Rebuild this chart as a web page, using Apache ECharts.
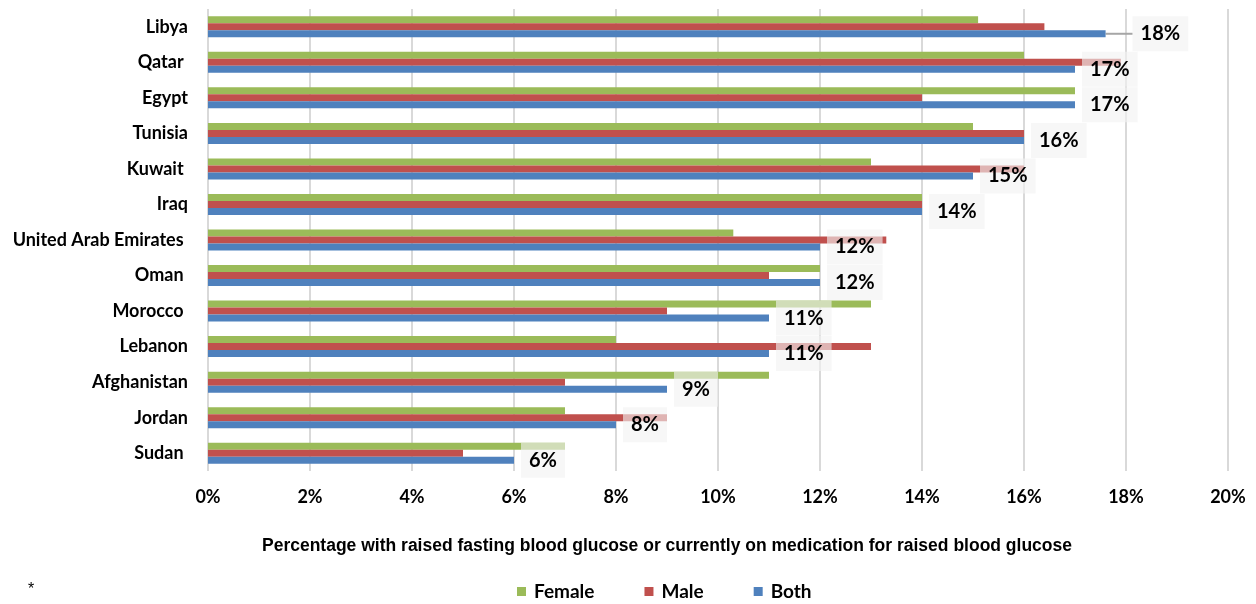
<!DOCTYPE html>
<html>
<head>
<meta charset="utf-8">
<script src="https://cdn.jsdelivr.net/npm/echarts@6/dist/echarts.min.js"></script>
<style>
  html, body { margin: 0; padding: 0; background: #fff; }
  #chart { width: 1256px; height: 604px; }
</style>
</head>
<body>
<div id="chart"></div>
<script>
// Countries, top to bottom
const countries = ['Libya', 'Qatar ', 'Egypt', 'Tunisia', 'Kuwait ', 'Iraq', 'United Arab Emirates ',
  'Oman ', 'Morocco ', 'Lebanon', 'Afghanistan', 'Jordan', 'Sudan '];
// Prevalence (%) of raised fasting blood glucose
const female = [15.1, 16.0, 17.0, 15.0, 13.0, 14.0, 10.3, 12.0, 13.0, 8.0, 11.0, 7.0, 7.0];
const male   = [16.4, 17.9, 14.0, 16.0, 16.0, 14.0, 13.3, 11.0, 9.0, 13.0, 7.0, 9.0, 5.0];
const both   = [17.6, 17.0, 17.0, 16.0, 15.0, 14.0, 12.0, 12.0, 11.0, 11.0, 9.0, 8.0, 6.0];
const xTicks = [0, 2, 4, 6, 8, 10, 12, 14, 16, 18, 20];
const axisTitle = 'Percentage with raised fasting blood glucose or currently on medication for raised blood glucose';

const FONT = 'Lato';
const chart = echarts.init(document.getElementById('chart'));

function barSeries(name, data, color, withLabels) {
  const s = {
    name: name,
    type: 'bar',
    data: data,
    barWidth: 7,
    barGap: '0%',
    itemStyle: { color: color },
    emphasis: { disabled: true }
  };
  if (withLabels) {
    // only the first label gets a leader line
    s.data = data.map((v, i) => (i === 0
      ? { value: v, labelLine: { show: true, lineStyle: { color: '#a6a6a6', width: 2 } } }
      : { value: v, labelLine: { show: false } }));
    s.label = {
      show: true,
      position: 'right',
      distance: 7,
      formatter: p => Math.round(p.value) + '%',
      fontFamily: FONT,
      fontWeight: 'bold',
      fontSize: 20,
      lineHeight: 20,
      color: '#000',
      backgroundColor: 'rgba(242,242,242,0.62)',
      padding: [8, 8, 7, 8]
    };
    s.labelLine = { show: false };
    // the top label sits a little further out
    s.labelLayout = p => (p.dataIndex === 0 ? { dx: 20 } : {});
  }
  return s;
}

chart.setOption({
  animation: false,
  grid: { left: 208, right: 28, top: 9, bottom: 133, containLabel: false },
  legend: {
    data: ['Female', 'Male', 'Both'],
    left: 517,
    top: 582,
    padding: 0,
    itemWidth: 9,
    itemHeight: 9,
    itemGap: 50,
    icon: 'rect',
    formatter: name => '{t|' + name + '}',
    textStyle: {
      rich: {
        t: { fontFamily: FONT, fontWeight: 'bold', fontSize: 19, color: '#000', width: 55, padding: [0, 0, 0, 3] }
      }
    }
  },
  xAxis: {
    type: 'value',
    min: xTicks[0],
    max: xTicks[xTicks.length - 1],
    interval: 2,
    axisLine: { show: false },
    axisTick: { show: false },
    splitLine: { show: true, lineStyle: { color: '#d9d9d9', width: 2 } },
    axisLabel: {
      formatter: '{value}%',
      fontFamily: FONT, fontWeight: 'bold', fontSize: 18, color: '#000', margin: 17
    }
  },
  yAxis: {
    type: 'category',
    data: countries,
    inverse: true,
    axisLine: { show: false },
    axisTick: { show: false },
    axisLabel: { fontFamily: FONT, fontWeight: 'bold', fontSize: 18, color: '#000', margin: 20 }
  },
  graphic: [
    {
      type: 'text', x: 667, y: 546,
      style: {
        text: axisTitle, fontFamily: 'Liberation Sans', fontWeight: 'bold', fontSize: 17.5,
        fill: '#000', align: 'center', verticalAlign: 'middle'
      }
    },
    {
      type: 'text', x: 31, y: 590,
      style: { text: '*', fontFamily: 'Liberation Sans', fontSize: 16, fill: '#000', align: 'center', verticalAlign: 'middle' }
    }
  ],
  series: [
    barSeries('Female', female, '#9BBB59', false),
    barSeries('Male', male, '#C0504D', false),
    barSeries('Both', both, '#4F81BD', true)
  ]
});
</script>
</body>
</html>
